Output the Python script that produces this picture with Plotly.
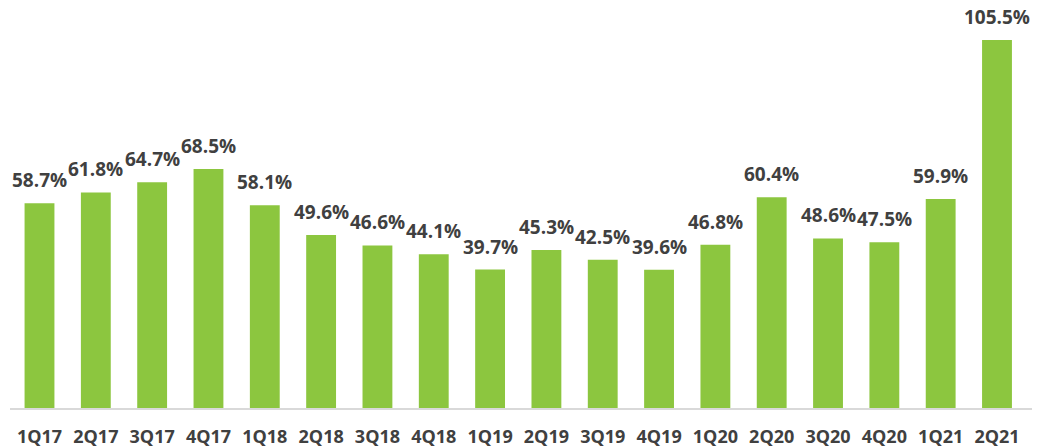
import plotly.graph_objects as go

quarters = ["1Q17", "2Q17", "3Q17", "4Q17", "1Q18", "2Q18", "3Q18", "4Q18", "1Q19",
            "2Q19", "3Q19", "4Q19", "1Q20", "2Q20", "3Q20", "4Q20", "1Q21", "2Q21"]
values = [58.7, 61.8, 64.7, 68.5, 58.1, 49.6, 46.6, 44.1, 39.7,
          45.3, 42.5, 39.6, 46.8, 60.4, 48.6, 47.5, 59.9, 105.5]

BAR = "#8CC63F"
TXT = "#404040"
FONT = "Open Sans"

fig = go.Figure()
fig.add_trace(go.Bar(x=quarters, y=values, marker=dict(color=BAR, line=dict(width=0)),
                     hoverinfo="skip"))

for q, v in zip(quarters, values):
    fig.add_annotation(x=q, y=v, text=f"<b>{v:.1f}%</b>", showarrow=False,
                       yanchor="bottom", yshift=8,
                       font=dict(family=FONT, size=19, color=TXT))

fig.update_layout(
    width=1038, height=448,
    margin=dict(l=10, r=6, t=10, b=40, autoexpand=False),
    paper_bgcolor="white", plot_bgcolor="white",
    bargap=0.47, showlegend=False,
    xaxis=dict(showline=True, linecolor="#D9D9D9", linewidth=1.5, ticks="",
               tickfont=dict(family=FONT, size=18, color=TXT), automargin=False,
               ticklabelstandoff=12, showgrid=False, fixedrange=True),
    yaxis=dict(range=[0, 114.1], visible=False, showgrid=False, zeroline=False,
               fixedrange=True, automargin=False),
)
fig.update_xaxes(tickvals=quarters, ticktext=[f"<b>{q}</b>" for q in quarters])

fig.write_html("out.html")
